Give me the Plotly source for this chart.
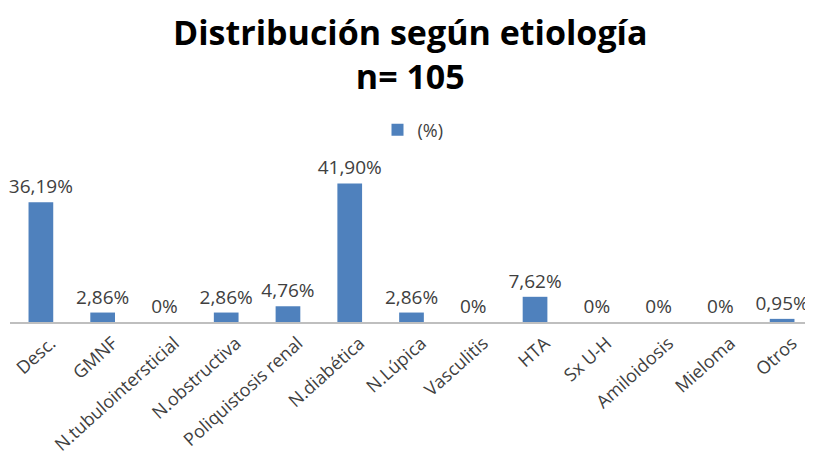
import plotly.graph_objects as go

categories = ["Desc.", "GMNF", "N.tubulointersticial", "N.obstructiva", "Poliquistosis renal",
              "N.diabética", "N.Lúpica", "Vasculitis", "HTA", "Sx U-H", "Amiloidosis", "Mieloma", "Otros"]
values = [36.19, 2.86, 0, 2.86, 4.76, 41.90, 2.86, 0, 7.62, 0, 0, 0, 0.95]
series_name = "(%)"
title_lines = ["Distribución según etiología", "n= 105"]

def fmt(v):
    if v == 0:
        return "0%"
    return f"{v:.2f}".replace(".", ",") + "%"

labels = [fmt(v) for v in values]

# page body has an 8px margin: figure sized to fit the 813x462 window
W, H = 805, 454
T, B, L, R = 142, 140, 2, 0
plot_h = H - T - B

def py(px_from_top):
    # convert window pixel (y) into paper coordinate
    return (H - B - (px_from_top - 8)) / plot_h

fig = go.Figure()
fig.add_trace(go.Bar(
    x=categories, y=values, name=series_name,
    marker=dict(color="#4f81bd", line=dict(width=0)),
    text=labels, textposition="outside", cliponaxis=False, constraintext="none",
    textfont=dict(family="Open Sans", size=19, color="#404040"),
    showlegend=True,
))

fig.add_annotation(text="<b>" + "<br>".join(title_lines) + "</b>", xref="paper", yref="paper",
                   x=(410 - 8 - L) / (W - L - R), y=py(54), xanchor="center", yanchor="middle",
                   showarrow=False, font=dict(family="Open Sans", size=34, color="#000000"))

fig.update_layout(
    width=W, height=H,
    paper_bgcolor="white", plot_bgcolor="white",
    margin=dict(l=L, r=R, t=T, b=B),
    bargap=0.6,
    legend=dict(orientation="h", x=(413 - 8 - L) / (W - L - R), xanchor="center",
                y=py(130), yanchor="middle",
                font=dict(family="Open Sans", size=18, color="#404040"),
                itemwidth=30),
    showlegend=True,
    font=dict(family="Open Sans", color="#404040"),
)
fig.update_xaxes(showline=True, linecolor="#bfbfbf", linewidth=1.5, tickangle=-42,
                 tickfont=dict(family="Open Sans", size=18, color="#404040"),
                 ticks="", showgrid=False, automargin=False,
                 ticklabelshift=10, ticklabelstandoff=2)
fig.update_yaxes(visible=False, range=[0, 52], showgrid=False)

fig.write_html("out.html")
